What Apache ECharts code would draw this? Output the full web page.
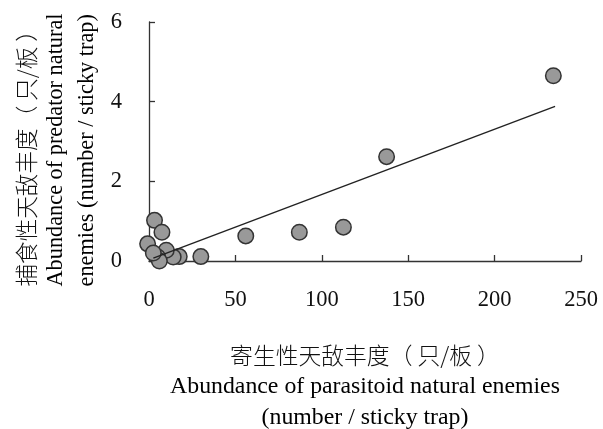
<!DOCTYPE html>
<html>
<head>
<meta charset="utf-8" />
<script src="https://cdn.jsdelivr.net/npm/echarts@6/dist/echarts.min.js"></script>
<title>天敌丰度</title>
<style>
  html, body { margin: 0; padding: 0; background: #fff; }
</style>
</head>
<body>
<div id="main" style="width: 603px;height:429px;"></div>
<script type="text/javascript">
// 寄生性天敌丰度 (x) 与 捕食性天敌丰度 (y)
var parasitoid = [234, 137.5, 112.5, 87, 56, 30, 17.5, 14, 10, 3.2, 7.5, -0.8, 5, 6, 2.5];
var predator = [4.65, 2.62, 0.85, 0.72, 0.63, 0.11, 0.11, 0.1, 0.27, 1.02, 0.72, 0.43, 0.1, 0.0, 0.2];
// 回归线两端
var fitX = [2.5, 235];
var fitY = [0.07, 3.88];

var xTitleCn = '寄生性天敌丰度（ 只/板 ）';
var xTitleEn = ['Abundance of parasitoid natural enemies', '(number / sticky trap)'];
var yTitleCn = '捕食性天敌丰度（ 只/板 ）';
var yTitleEn = ['Abundance of predator natural', 'enemies (number / sticky trap)'];

var serif = '"Liberation Serif", "Times New Roman", serif';
var cjk = '"Noto Sans CJK SC", sans-serif';

var points = parasitoid.map(function (x, i) { return [x, predator[i]]; });
var fitLine = fitX.map(function (x, i) { return [x, fitY[i]]; });

var xRich = {
  cn: { fontFamily: cjk, fontSize: 22.8, color: '#111', lineHeight: 32, fontWeight: 300 },
  en: { fontFamily: serif, fontSize: 23.8, color: '#000', lineHeight: 31 }
};
var yRich = {
  cn: { fontFamily: cjk, fontSize: 22.6, color: '#111', lineHeight: 30, fontWeight: 300, align: 'left' },
  en: { fontFamily: serif, fontSize: 22.3, color: '#000', lineHeight: 30.5, align: 'left' }
};

var myChart = echarts.init(document.getElementById('main'));
var option = {
  backgroundColor: '#fff',
  animation: false,
  grid: { left: 149, right: 22, top: 22, bottom: 168, outerBoundsMode: 'none' },
  xAxis: {
    type: 'value',
    min: 0, max: 250, interval: 50,
    name: '{cn|' + xTitleCn + '}\n{en|' + xTitleEn[0] + '}\n{en|' + xTitleEn[1] + '}',
    nameLocation: 'middle',
    nameGap: 78,
    nameTextStyle: { rich: xRich, align: 'center' },
    axisLine: { lineStyle: { color: '#333', width: 1.3 } },
    axisTick: { inside: true, length: 6, lineStyle: { color: '#333', width: 1.3 } },
    axisLabel: { fontFamily: serif, fontSize: 22.5, color: '#111', margin: 28 },
    splitLine: { show: false }
  },
  yAxis: {
    type: 'value',
    min: 0, max: 6, interval: 2,
    name: '{cn|' + yTitleCn + '}\n{en|' + yTitleEn[0] + '}\n{en|' + yTitleEn[1] + '}',
    nameLocation: 'middle',
    nameRotate: 90,
    nameGap: 47,
    nameTextStyle: { rich: yRich, padding: [0, 17, 0, 0] },
    axisLine: { lineStyle: { color: '#333', width: 1.3 } },
    axisTick: { inside: true, length: 6, lineStyle: { color: '#333', width: 1.3 } },
    axisLabel: { fontFamily: serif, fontSize: 22.5, color: '#111', margin: 27 },
    splitLine: { show: false }
  },
  series: [
    {
      type: 'scatter',
      data: points,
      clip: false,
      symbolSize: 15.5,
      itemStyle: { color: '#999', borderColor: '#333', borderWidth: 1.5, opacity: 1 },
      z: 2
    },
    {
      type: 'line',
      data: fitLine,
      showSymbol: false,
      symbol: 'none',
      lineStyle: { color: '#222', width: 1.4 },
      z: 3
    }
  ]
};
myChart.setOption(option);
</script>
</body>
</html>
